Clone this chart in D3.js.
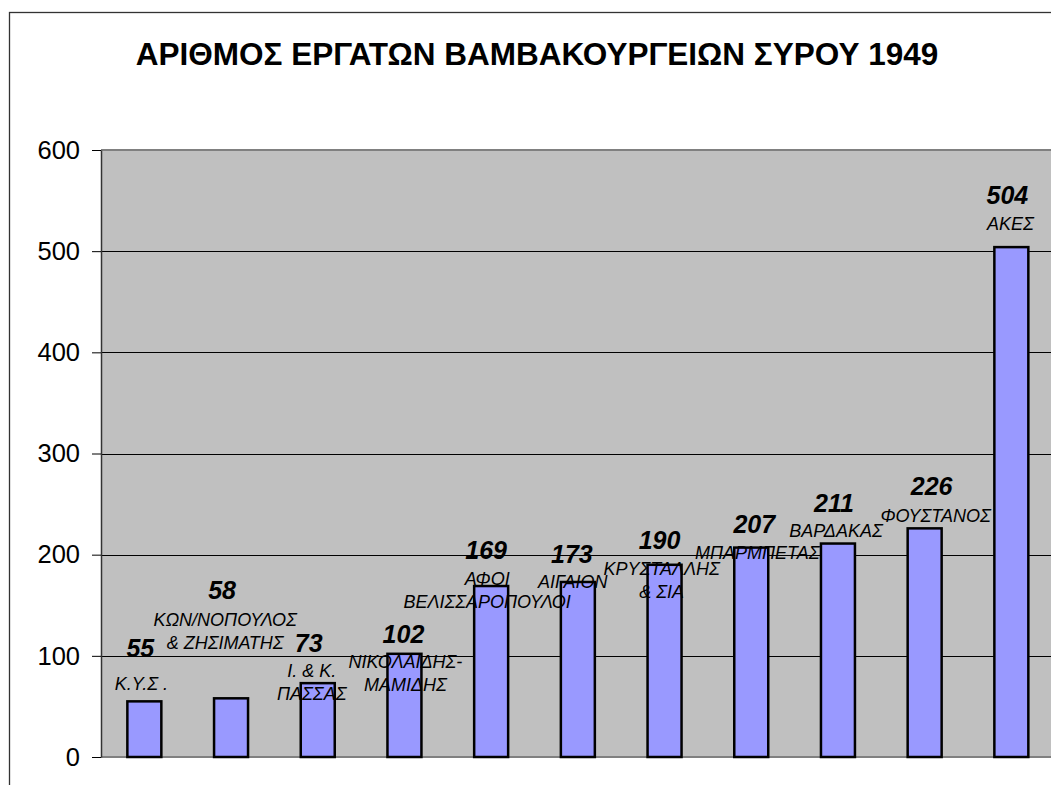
<!DOCTYPE html>
<html lang="el">
<head>
<meta charset="utf-8">
<title>ΑΡΙΘΜΟΣ ΕΡΓΑΤΩΝ ΒΑΜΒΑΚΟΥΡΓΕΙΩΝ ΣΥΡΟΥ 1949</title>
<script src="https://d3js.org/d3.v7.min.js"></script>
<style type="text/css">
body {
	margin: 0;
	background-color: white;
	font-family: Arial, "Liberation Sans", sans-serif;
}
svg { display: block; }
.tick text { font-size: 25.5px; fill: #000; }
.value { font-size: 25px; font-weight: bold; font-style: italic; }
.name { font-size: 18px; font-style: italic; }
</style>
</head>
<body>
<script type="text/javascript">

// data
var firms = ["Κ.Υ.Σ.", "ΚΩΝ/ΝΟΠΟΥΛΟΣ & ΖΗΣΙΜΑΤΗΣ", "Ι. & Κ. ΠΑΣΣΑΣ", "ΝΙΚΟΛΑΙΔΗΣ-ΜΑΜΙΔΗΣ",
	"ΑΦΟΙ ΒΕΛΙΣΣΑΡΟΠΟΥΛΟΙ", "ΑΙΓΑΙΟΝ", "ΚΡΥΣΤΑΛΛΗΣ & ΣΙΑ", "ΜΠΑΡΜΠΕΤΑΣ",
	"ΒΑΡΔΑΚΑΣ", "ΦΟΥΣΤΑΝΟΣ", "ΑΚΕΣ"];
var workers = [55, 58, 73, 102, 169, 173, 190, 207, 211, 226, 504];
// label text as it is broken into lines on the chart
var labelLines = [["Κ.Υ.Σ ."], ["ΚΩΝ/ΝΟΠΟΥΛΟΣ", "& ΖΗΣΙΜΑΤΗΣ"], ["Ι. & Κ.", "ΠΑΣΣΑΣ"],
	["ΝΙΚΟΛΑΙΔΗΣ-", "ΜΑΜΙΔΗΣ"], ["ΑΦΟΙ", "ΒΕΛΙΣΣΑΡΟΠΟΥΛΟΙ"], ["ΑΙΓΑΙΟΝ"],
	["ΚΡΥΣΤΑΛΛΗΣ", "& ΣΙΑ"], ["ΜΠΑΡΜΠΕΤΑΣ"], ["ΒΑΡΔΑΚΑΣ"], ["ΦΟΥΣΤΑΝΟΣ"], ["ΑΚΕΣ"]];
var yTicks = [0, 100, 200, 300, 400, 500, 600];
var title = "ΑΡΙΘΜΟΣ ΕΡΓΑΤΩΝ ΒΑΜΒΑΚΟΥΡΓΕΙΩΝ ΣΥΡΟΥ 1949";

// hand-placed label nudges (px from bar centre / bar top), [dx, dy]
var valueNudge = [[-4,-44],[-9,-99],[-9,-31],[-1,-11],[-5,-27],[-6,-19],[-5,-16],[3,-15],[-4,-32],[7,-33],[-4,-43]];
var nameNudge = [[-3,-11],[-6,-72],[-6,-6],[1,14],[-4,-1],[-5,6],[-3,10],[6,11],[-2,-7],[11,-6],[-1,-17]];

var width = 1051;
var height = 785;
var plotLeft = 101, plotRight = 101 + 86.7 * 11, plotTop = 150, plotBottom = 757;

var svg = d3.select("body").append("svg").attr("width", width).attr("height", height);

// outer frame
svg.append("rect")
	.attr("x", 9.5).attr("y", 12.5)
	.attr("width", 1100).attr("height", 900)
	.attr("fill", "white")
	.attr("stroke", "#333").attr("stroke-width", 1.3);

var x = d3.scaleBand().domain(firms).range([plotLeft, plotRight])
	.paddingInner(0.608).paddingOuter(0.304);
var y = d3.scaleLinear().domain([0, 600]).range([plotBottom, plotTop]);

// plot area
svg.append("rect")
	.attr("x", plotLeft).attr("y", plotTop)
	.attr("width", plotRight - plotLeft).attr("height", plotBottom - plotTop)
	.attr("fill", "#c0c0c0");
svg.append("line")
	.attr("x1", plotLeft).attr("x2", plotRight).attr("y1", plotTop).attr("y2", plotTop)
	.attr("stroke", "#808080").attr("stroke-width", 2);
svg.append("line")
	.attr("x1", plotLeft).attr("x2", plotRight).attr("y1", plotBottom).attr("y2", plotBottom)
	.attr("stroke", "#808080").attr("stroke-width", 2);

// gridlines
svg.append("g").selectAll("line")
	.data(yTicks.filter(function(d) { return d > 0 && d < 600; }))
	.enter().append("line")
	.attr("x1", plotLeft).attr("x2", plotRight)
	.attr("y1", function(d) { return Math.round(y(d)) + 0.5; })
	.attr("y2", function(d) { return Math.round(y(d)) + 0.5; })
	.attr("stroke", "#000").attr("stroke-width", 1);

// y axis
var yAxis = svg.append("g")
	.attr("transform", "translate(" + plotLeft + ",0)")
	.call(d3.axisLeft(y).tickValues(yTicks).tickSize(9).tickSizeOuter(0).tickPadding(12));
yAxis.select(".domain").attr("stroke", "#333").attr("stroke-width", 1.5);
yAxis.selectAll(".tick line").attr("stroke", "#000");
yAxis.selectAll(".tick text").attr("font-family", "Arial, 'Liberation Sans', sans-serif");

// bars
svg.append("g").selectAll("rect")
	.data(workers)
	.enter().append("rect")
	.attr("x", function(d, i) { return x(firms[i]); })
	.attr("y", function(d) { return y(d); })
	.attr("width", x.bandwidth())
	.attr("height", function(d) { return y(0) - y(d); })
	.attr("fill", "#9999ff")
	.attr("stroke", "#000")
	.attr("stroke-width", 2.5);

// labels
var lab = svg.append("g").selectAll("g")
	.data(workers)
	.enter().append("g");

lab.append("text")
	.attr("class", "value")
	.attr("text-anchor", "middle")
	.attr("x", function(d, i) { return x(firms[i]) + x.bandwidth() / 2 + valueNudge[i][0]; })
	.attr("y", function(d, i) { return y(d) + valueNudge[i][1]; })
	.text(function(d) { return d; });

lab.append("text")
	.attr("class", "name")
	.attr("text-anchor", "middle")
	.attr("y", function(d, i) { return y(d) + nameNudge[i][1]; })
	.each(function(d, i) {
		var cx = x(firms[i]) + x.bandwidth() / 2 + nameNudge[i][0];
		d3.select(this).selectAll("tspan")
			.data(labelLines[i])
			.enter().append("tspan")
			.attr("x", cx)
			.attr("dy", function(t, j) { return j == 0 ? 0 : 23; })
			.text(function(t) { return t; });
	});

// title
svg.append("text")
	.attr("x", 537).attr("y", 65)
	.attr("text-anchor", "middle")
	.attr("font-size", "31.5px")
	.attr("font-weight", "bold")
	.text(title);

</script>
</body>
</html>
